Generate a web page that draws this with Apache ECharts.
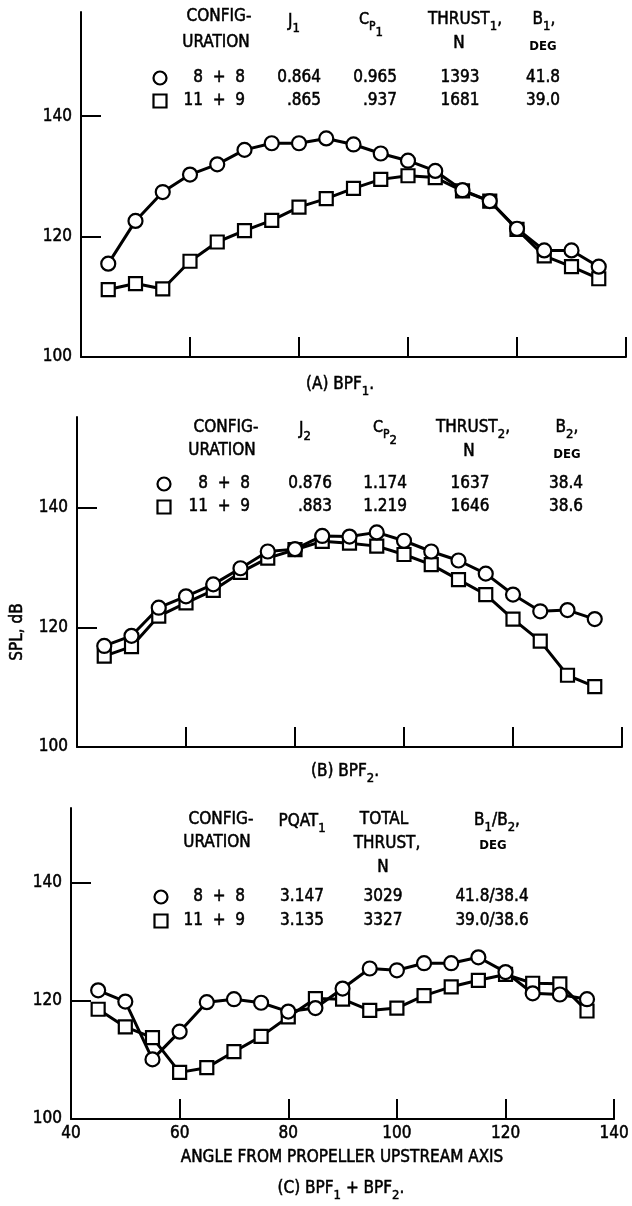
<!DOCTYPE html>
<html>
<head>
<meta charset="utf-8">
<script src="https://cdn.jsdelivr.net/npm/echarts@6/dist/echarts.min.js"></script>
<style>
  html, body { margin: 0; padding: 0; background: #fff; }
  #chart { width: 632px; height: 1206px; }
</style>
</head>
<body>
<div id="chart"></div>
<script>
// angle from propeller upstream axis, deg
const angles = [45, 50, 55, 60, 65, 70, 75, 80, 85, 90, 95, 100, 105, 110, 115, 120, 125, 130, 135];

// (A) BPF1
const bpf1Circle = [115.5, 122.6, 127.4, 130.3, 132.0, 134.4, 135.5, 135.5, 136.3, 135.3, 133.8, 132.6, 130.9, 127.7, 125.9, 121.3, 117.7, 117.7, 115.0];
const bpf1Square = [111.2, 112.2, 111.3, 115.9, 119.1, 121.0, 122.7, 124.9, 126.3, 128.0, 129.5, 130.1, 129.8, 127.6, 125.9, 121.2, 116.8, 115.0, 113.0];
// (B) BPF2
const bpf2Circle = [116.9, 118.6, 123.3, 125.2, 127.2, 129.9, 132.7, 133.1, 135.3, 135.2, 135.9, 134.5, 132.7, 131.2, 129.0, 125.5, 122.7, 122.9, 121.4];
const bpf2Square = [115.2, 116.8, 121.9, 124.1, 126.2, 129.2, 131.6, 133.0, 134.4, 134.1, 133.6, 132.2, 130.5, 128.0, 125.5, 121.4, 117.7, 112.0, 110.1];
// (C) BPF1 + BPF2
const sumCircle = [121.8, 119.9, 110.1, 114.8, 119.8, 120.3, 119.7, 118.2, 118.8, 122.1, 125.5, 125.2, 126.4, 126.4, 127.4, 124.9, 121.3, 121.1, 120.3];
const sumSquare = [118.6, 115.6, 113.8, 107.9, 108.7, 111.4, 114.0, 117.3, 120.4, 120.3, 118.4, 118.8, 120.9, 122.4, 123.5, 124.5, 123.0, 122.9, 118.3];

const xTicks = [60, 80, 100, 120, 140];
const xLabels = [40, 60, 80, 100, 120, 140];
const yTicks = [120, 140];
const yLabels = [100, 120, 140];

const F = "'DejaVu Sans Condensed','Liberation Sans Narrow','DejaVu Sans',sans-serif";
const FS = 17;   // main text size
const SS = 13;   // subscript size
const ctx = document.createElement('canvas').getContext('2d');
function measure(s, size, weight) {
  ctx.font = (weight || 'normal') + ' ' + size + 'px ' + F;
  return ctx.measureText(s).width;
}

// single text, slightly thickened like the lettering of the original
function txt(x, y, s, align, size, weight) {
  return {
    type: 'text', x: x, y: y, z: 100,
    style: {
      text: s, fill: '#000', fontSize: size || FS, fontFamily: F,
      fontWeight: weight || 'normal',
      stroke: '#000', lineWidth: weight ? 0 : 0.5,
      textAlign: align || 'center', textVerticalAlign: 'middle'
    }
  };
}
// text made of pieces with subscripts, centered on cx
function compose(cx, y, parts) {
  let w = 0;
  parts.forEach(p => { w += measure(p[0], p[1]); });
  let x = cx - w / 2;
  const out = [];
  parts.forEach(p => {
    out.push(txt(x, y + (p[2] || 0), p[0], 'left', p[1]));
    x += measure(p[0], p[1]);
  });
  return out;
}
function circleMark(x, y) {
  return { type: 'circle', z: 100, shape: { cx: x, cy: y, r: 6.5 }, style: { fill: '#fff', stroke: '#000', lineWidth: 2.2 } };
}
function squareMark(x, y) {
  return { type: 'rect', z: 100, shape: { x: x - 6.5, y: y - 6.5, width: 13, height: 13 }, style: { fill: '#fff', stroke: '#000', lineWidth: 2.2 } };
}

let graphic = [];

// table (A)
graphic.push(
  txt(219, 17, 'CONFIG-'), txt(216, 43, 'URATION'),
  ...compose(294, 22, [['J', FS], ['1', SS, 7]]),
  ...compose(371, 20, [['C', 16], ['P', 12, 7], ['1', SS, 13]]),
  ...compose(465, 20, [['THRUST', FS], ['1', SS, 7], [',', FS]]),
  txt(459, 44, 'N'),
  ...compose(544, 20, [['B', FS], ['1', SS, 7], [',', FS]]),
  txt(543, 47, 'DEG', 'center', 13, 'bold'),
  circleMark(160, 78), txt(245, 78, '8  +  8', 'right'), txt(321, 78, '0.864', 'right'),
  txt(397, 78, '0.965', 'right'), txt(460, 78, '1393'), txt(543, 78, '41.8'),
  squareMark(160, 101), txt(245, 101, '11  +  9', 'right'), txt(321, 101, '.865', 'right'),
  txt(397, 101, '.937', 'right'), txt(460, 101, '1681'), txt(543, 101, '39.0')
);
// table (B)
graphic.push(
  txt(226, 428, 'CONFIG-'), txt(222, 451, 'URATION'),
  ...compose(305, 430, [['J', FS], ['2', SS, 7]]),
  ...compose(385, 428, [['C', 16], ['P', 12, 7], ['2', SS, 13]]),
  ...compose(473, 428, [['THRUST', FS], ['2', SS, 7], [',', FS]]),
  txt(469, 452, 'N'),
  ...compose(567, 428, [['B', FS], ['2', SS, 7], [',', FS]]),
  txt(567, 455, 'DEG', 'center', 13, 'bold'),
  circleMark(164, 484), txt(250, 484, '8  +  8', 'right'), txt(332, 484, '0.876', 'right'),
  txt(407, 484, '1.174', 'right'), txt(470, 484, '1637'), txt(566, 484, '38.4'),
  squareMark(164, 507), txt(250, 507, '11  +  9', 'right'), txt(332, 507, '.883', 'right'),
  txt(407, 507, '1.219', 'right'), txt(470, 507, '1646'), txt(566, 507, '38.6')
);
// table (C)
graphic.push(
  txt(221, 820, 'CONFIG-'), txt(217, 843, 'URATION'),
  ...compose(302, 822, [['PQAT', FS], ['1', SS, 7]]),
  txt(384, 820, 'TOTAL'), txt(387, 844, 'THRUST,'), txt(383, 868, 'N'),
  ...compose(497, 821, [['B', FS], ['1', SS, 7], ['/B', FS], ['2', SS, 7], [',', FS]]),
  txt(493, 846, 'DEG', 'center', 13, 'bold'),
  circleMark(161, 897), txt(245, 897, '8  +  8', 'right'), txt(302, 897, '3.147'),
  txt(383, 897, '3029'), txt(492, 897, '41.8/38.4'),
  squareMark(161, 921), txt(245, 921, '11  +  9', 'right'), txt(302, 921, '3.135'),
  txt(383, 921, '3327'), txt(492, 921, '39.0/38.6')
);
// captions and axis titles
graphic.push(
  ...compose(340, 385, [['(A) BPF', FS], ['1', SS, 7], ['.', FS]]),
  ...compose(345, 772, [['(B) BPF', FS], ['2', SS, 7], ['.', FS]]),
  ...compose(341, 1189, [['(C) BPF', FS], ['1', SS, 7], [' + BPF', FS], ['2', SS, 7], ['.', FS]]),
  txt(342, 1158, 'ANGLE FROM PROPELLER UPSTREAM AXIS'),
  Object.assign(txt(18, 632, 'SPL, dB'), { rotation: Math.PI / 2 })
);

const grids = [
  { left: 81, right: 6, top: 12, bottom: 849 },
  { left: 77, right: 10, top: 417, bottom: 459 },
  { left: 71, right: 17, top: 808, bottom: 87 }
];
const yMax = [157.3, 155.2, 152.7];

const axisLine = { show: true, lineStyle: { color: '#000', width: 2 } };
const labelStyle = { color: '#000', fontSize: FS, fontFamily: F, textBorderColor: '#000', textBorderWidth: 0.5 };
const xAxis = grids.map((g, i) => ({
  type: 'value', gridIndex: i, min: 40, max: 140,
  axisLine: axisLine,
  axisTick: { show: true, inside: true, length: 20, customValues: xTicks, lineStyle: { color: '#000', width: 2 } },
  axisLabel: Object.assign({ show: i === 2, customValues: xLabels, margin: 6 }, labelStyle),
  splitLine: { show: false }
}));
const yAxis = grids.map((g, i) => ({
  type: 'value', gridIndex: i, min: 100, max: yMax[i],
  axisLine: axisLine,
  axisTick: { show: true, inside: true, length: 20, customValues: yTicks, lineStyle: { color: '#000', width: 2 } },
  axisLabel: Object.assign({ customValues: yLabels, margin: 9 }, labelStyle),
  splitLine: { show: false }
}));

function pairs(vals) {
  return angles.map((a, i) => [a, vals[i]]);
}
function line(vals, idx, symbol) {
  return {
    type: 'line', xAxisIndex: idx, yAxisIndex: idx,
    data: pairs(vals),
    symbol: symbol, symbolSize: symbol === 'rect' ? 13 : 14,
    showAllSymbol: true,
    lineStyle: { color: '#000', width: 3 },
    itemStyle: { color: '#fff', borderColor: '#000', borderWidth: 2.2 },
    emphasis: { disabled: true }
  };
}

const chart = echarts.init(document.getElementById('chart'));
chart.setOption({
  animation: false,
  backgroundColor: '#fff',
  grid: grids,
  xAxis: xAxis,
  yAxis: yAxis,
  graphic: graphic,
  series: [
    line(bpf1Square, 0, 'rect'), line(bpf1Circle, 0, 'circle'),
    line(bpf2Square, 1, 'rect'), line(bpf2Circle, 1, 'circle'),
    line(sumSquare, 2, 'rect'), line(sumCircle, 2, 'circle')
  ]
});
</script>
</body>
</html>
